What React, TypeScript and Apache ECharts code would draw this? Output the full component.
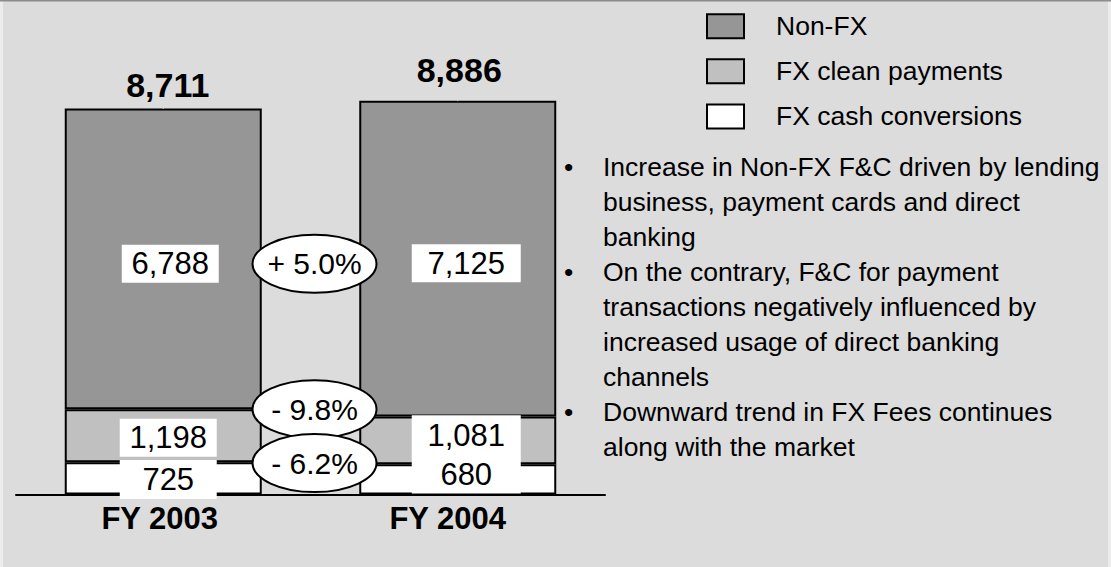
import React, { useEffect, useRef } from 'react';
import * as echarts from 'echarts';

const categories = ['FY 2003', 'FY 2004'];
const seriesNames = ['Non-FX', 'FX clean payments', 'FX cash conversions'];
const nonFx = [6788, 7125];
const fxClean = [1198, 1081];
const fxCash = [725, 680];
const totals = [8711, 8886];
const changeLabels = ['+ 5.0%', '- 9.8%', '- 6.2%'];
const bulletLines = [
  ['Increase in Non-FX F&C driven by lending', 'business, payment cards and direct', 'banking'],
  ['On the contrary, F&C for payment', 'transactions negatively influenced by', 'increased usage of direct banking', 'channels'],
  ['Downward trend in FX Fees continues', 'along with the market'],
];

const FONT = '"Liberation Sans", Arial, Helvetica, sans-serif';
const fmt = (v: number) => v.toLocaleString('en-US');

export default function App() {
  const ref = useRef<HTMLDivElement>(null);
  useEffect(() => {
    const chart = echarts.init(ref.current!, null, { renderer: 'svg' });
    const lbl = (extra: any) => ({
      show: true,
      position: 'inside',
      color: '#000',
      fontSize: 31,
      fontFamily: FONT,
      lineHeight: 30,
      backgroundColor: '#fff',
      align: 'center',
      textBorderWidth: 0,
      formatter: (p: any) => fmt(p.value),
      ...extra,
    });
    const nonFxLabel = [
      { offset: [7, 5], width: 73, padding: [4, 12, 4, 12] },
      { offset: [8.5, 4.6], width: 85, padding: [4, 12, 4, 12] },
    ];
    const cleanLabel = [
      { offset: [5, 2.1], width: 73, padding: [5, 12, 3, 12] },
      { offset: [8.5, -4.7], width: 85, padding: [6, 12, 5, 12] },
    ];
    const cashLabel = [
      { offset: [5, 1.2], width: 73, padding: [6, 12, 3, 12] },
      { offset: [8.5, -4.65], width: 85, padding: [5.7, 12, 2, 12] },
    ];
    const totalOffsets = [[4.5, -24], [1.5, -30.5]];
    const barItem = (color: string) => ({ color, borderColor: '#000', borderWidth: 2 });

    const bullets = bulletLines.map((ls) => ls.join('\n')).join('\n');
    const bulletDots = bulletLines.map((ls) => ['•', ...ls.slice(1).map(() => '')].join('\n')).join('\n');

    chart.setOption({
      animation: false,
      backgroundColor: '#dcdcdc',
      textStyle: { fontFamily: FONT },
      grid: { left: 16, right: 506, top: 51.4, bottom: 72.6, containLabel: false, outerBoundsMode: 'none' },
      legend: {
        data: seriesNames,
        orient: 'vertical',
        left: 706,
        top: 12.65,
        padding: 0,
        itemWidth: 37,
        itemHeight: 24,
        itemGap: 18.15,
        icon: 'rect',
        itemStyle: { borderColor: '#000', borderWidth: 2 },
        textStyle: { fontSize: 26.5, color: '#000', fontFamily: FONT, padding: [0, 0, 0, 27] },
        selectedMode: false,
      },
      xAxis: {
        type: 'category',
        data: categories,
        axisLine: { show: true, lineStyle: { color: '#000', width: 2 } },
        axisTick: { show: false },
        axisLabel: {
          margin: 9,
          formatter: (v: string, i: number) => (i === 0 ? `{a|${v}}` : `{b|${v}}`),
          rich: {
            a: { fontSize: 31, fontWeight: 'bold', color: '#000', fontFamily: FONT, padding: [0, 7, 0, 0] },
            b: { fontSize: 31, fontWeight: 'bold', color: '#000', fontFamily: FONT, padding: [0, 20, 0, 0] },
          },
        },
      },
      yAxis: { type: 'value', min: 0, max: 10000, show: false, splitLine: { show: false } },
      series: [
        {
          name: seriesNames[2],
          type: 'bar',
          stack: 'fc',
          barWidth: 197,
          itemStyle: barItem('#ffffff'),
          data: fxCash.map((v, i) => ({ value: v, label: lbl(cashLabel[i]) })),
          z: 2,
        },
        {
          name: seriesNames[1],
          type: 'bar',
          stack: 'fc',
          barWidth: 197,
          itemStyle: barItem('#c0c0c0'),
          data: fxClean.map((v, i) => ({ value: v, label: lbl(cleanLabel[i]) })),
          z: 2,
        },
        {
          name: seriesNames[0],
          type: 'bar',
          stack: 'fc',
          barWidth: 197,
          itemStyle: barItem('#969696'),
          data: nonFx.map((v, i) => ({ value: v, label: lbl(nonFxLabel[i]) })),
          z: 2,
        },
        {
          name: 'Total',
          type: 'scatter',
          symbolSize: 1,
          itemStyle: { color: '#dcdcdc', opacity: 1 },
          data: totals.map((v, i) => ({
            value: v,
            label: {
              show: true,
              position: 'inside',
              offset: totalOffsets[i],
              fontSize: 34,
              fontWeight: 'bold',
              color: '#000',
              opacity: 1,
              textBorderWidth: 0,
              textBorderColor: 'transparent',
              fontFamily: FONT,
              formatter: (p: any) => fmt(p.value),
            },
          })),
          z: 5,
        },
      ],
    });

    const px = (ci: number, v: number) => chart.convertToPixel({ gridIndex: 0 }, [ci, v]) as number[];
    const cx = (px(0, 0)[0] + px(1, 0)[0]) / 2 + 4;
    const ys = [
      (px(0, fxCash[0] + fxClean[0])[1] + px(0, totals[0])[1]) / 2 + 5,
      px(0, fxCash[0] + fxClean[0])[1],
      px(0, fxCash[0])[1] + 0.8,
    ];
    const graphics: any[] = [
      { type: 'rect', shape: { x: 0, y: 0, width: 3, height: 567 }, style: { fill: '#ececec' }, z: 200 },
      { type: 'rect', shape: { x: 1108, y: 0, width: 3, height: 567 }, style: { fill: '#ececec' }, z: 200 },
      { type: 'rect', shape: { x: 0, y: 0, width: 1111, height: 1.5 }, style: { fill: '#8c8c8c' }, z: 201 },
      {
        type: 'text',
        x: 603,
        y: 149,
        z: 50,
        style: { text: bullets, fontSize: 26.5, fontFamily: FONT, fill: '#000', lineHeight: 35, align: 'left', verticalAlign: 'top', textAlign: 'left', textVerticalAlign: 'top' },
      },
      {
        type: 'text',
        x: 564,
        y: 149,
        z: 50,
        style: { text: bulletDots, fontSize: 26.5, fontFamily: FONT, fill: '#000', lineHeight: 35, align: 'left', verticalAlign: 'top', textAlign: 'left', textVerticalAlign: 'top' },
      },
    ];
    changeLabels.forEach((t, i) => {
      graphics.push({
        type: 'ellipse',
        shape: { cx, cy: ys[i], rx: 62, ry: 29 },
        style: { fill: '#fff', stroke: '#000', lineWidth: 2 },
        z: 100 + i * 2,
      });
      graphics.push({
        type: 'text',
        x: cx,
        y: ys[i],
        z: 101 + i * 2,
        style: { text: t, fontSize: 30, fontFamily: FONT, fill: '#000', align: 'center', verticalAlign: 'middle', textAlign: 'center', textVerticalAlign: 'middle' },
      });
    });
    chart.setOption({ graphic: graphics });

    return () => chart.dispose();
  }, []);
  return <div ref={ref} style={{ position: 'fixed', left: 0, top: 0, width: 1111, height: 567 }} />;
}
